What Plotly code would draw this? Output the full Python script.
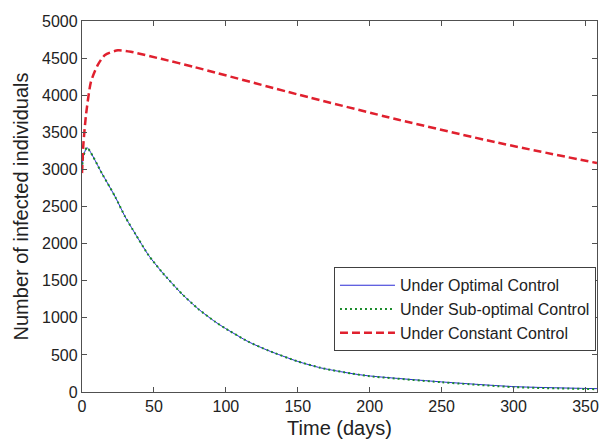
import plotly.graph_objects as go

# Under Optimal Control
opt_days = [0, 1, 3.5, 13.9, 23.1, 30, 36.9, 46.2, 55.4, 69.3, 80.8, 92.3, 99.7, 115.4, 129.3, 150, 166, 187, 199, 250, 301, 358]
opt_vals = [3000, 3180, 3294, 2944, 2630, 2361, 2136, 1845, 1620, 1325, 1120, 950, 857, 680, 560, 412, 325, 250, 218, 136, 72, 45]

# Under Sub-optimal Control
sub_days = [0, 1, 3.5, 13.9, 23.1, 30, 36.9, 46.2, 55.4, 69.3, 80.8, 92.3, 99.7, 115.4, 129.3, 150, 166, 187, 199, 250, 301, 358]
sub_vals = [3000, 3180, 3294, 2944, 2630, 2361, 2136, 1845, 1620, 1325, 1120, 950, 857, 680, 560, 412, 325, 250, 215, 132, 65, 38]

# Under Constant Control
con_days = [0, 1, 2.8, 6.2, 11, 16, 25, 34, 55, 78, 151, 220, 289, 358]
con_vals = [2950, 3350, 3737, 4180, 4409, 4543, 4605, 4585, 4490, 4380, 4005, 3669, 3360, 3085]

x_ticks = [0, 50, 100, 150, 200, 250, 300, 350]
y_ticks = [0, 500, 1000, 1500, 2000, 2500, 3000, 3500, 4000, 4500, 5000]

FONT = "Liberation Sans, Arial, Helvetica, sans-serif"

fig = go.Figure()
fig.add_trace(go.Scatter(x=opt_days, y=opt_vals, mode="lines", name="Under Optimal Control",
                         line=dict(color="#2b2bd6", width=1, shape="spline", smoothing=0.6)))
fig.add_trace(go.Scatter(x=sub_days, y=sub_vals, mode="lines", name="Under Sub-optimal Control",
                         line=dict(color="#1a8a2a", width=2, dash="2px,3px", shape="spline", smoothing=0.6)))
fig.add_trace(go.Scatter(x=con_days, y=con_vals, mode="lines", name="Under Constant Control",
                         line=dict(color="#e0202e", width=2.5, dash="8px,4px", shape="spline", smoothing=0.6)))

axis_common = dict(showline=True, linecolor="#505050", linewidth=1.3, mirror="allticks",
                   ticks="inside", ticklen=5, tickcolor="#505050", showgrid=False, zeroline=False,
                   ticklabeloverflow="allow",
                   tickfont=dict(family=FONT, size=16, color="#222"))

fig.update_layout(
    width=599, height=442, autosize=False,
    margin=dict(l=82, r=0, t=21, b=50),
    paper_bgcolor="white", plot_bgcolor="white",
    font=dict(family=FONT, color="#222"),
    xaxis=dict(range=[0, 358], tickvals=x_ticks, ticktext=[str(v) for v in x_ticks],
               title=dict(text="Time (days)", font=dict(size=20), standoff=6), **axis_common),
    yaxis=dict(range=[0, 5000], tickvals=y_ticks, ticktext=[str(v) for v in y_ticks],
               title=dict(text="Number of infected individuals", font=dict(size=20), standoff=8), **axis_common),
    legend=dict(x=0.998, y=0.336, xanchor="right", yanchor="top",
                bordercolor="#404040", borderwidth=1, bgcolor="white",
                font=dict(size=16, color="#222"), itemwidth=55, tracegroupgap=0),
    showlegend=True,
)

fig.write_html("out.html", config={"displayModeBar": False},
               post_script="document.body.style.margin='0';document.body.style.overflow='hidden';")
